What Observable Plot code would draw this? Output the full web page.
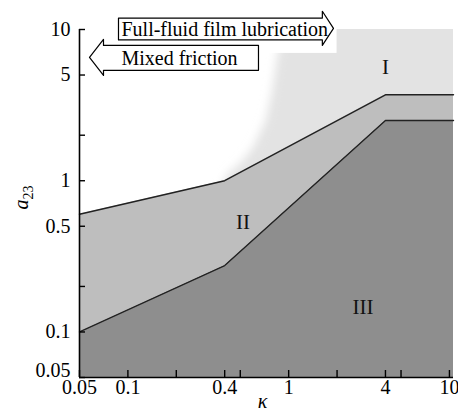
<!DOCTYPE html>
<html><head><meta charset="utf-8">
<script src="https://cdn.jsdelivr.net/npm/d3@7"></script>
<script src="https://cdn.jsdelivr.net/npm/@observablehq/plot@0.6"></script>
<style>body{margin:0;background:#fff}</style>
</head><body><div id="chart"></div>
<script>
// ---- data ----
const kappaCorners = [0.05, 0.4, 4, 10.6];
const upperBoundary = [0.6, 1.0, 3.7, 3.7];     // I / II boundary
const lowerBoundary = [0.1, 0.275, 2.5, 2.5];   // II / III boundary
const a23Min = 0.05;

// region I (full-fluid film) soft left edge, closed polygon
const regionIKappa = [0.38, 0.42, 0.50, 0.60, 0.72, 0.79, 0.85, 0.92, 1.0, 20, 20, 0.38];
const regionIA23   = [0.90, 1.12, 1.30, 1.66, 2.5, 3.96, 6.74, 10, 20, 20, 0.05, 0.05];

// white backing box of the annotation arrows
const boxKappa = [0.05, 2.0];
const boxA23 = [6.95, 10];

const regionLabels = ["I", "II", "III"];
const regionLabelKappa = [4.0, 0.52, 2.9];
const regionLabelA23 = [5.6, 0.53, 0.145];

const arrowTexts = ["Full-fluid film lubrication", "Mixed friction"];
const arrowTextKappa = [0.0912, 0.0912];
const arrowTextA23 = [10.0, 6.44];
const arrowId = [0,0,0,0,0,0,0,0, 1,1,1,1,1,1,1,1];
const arrowKappa = [0.0874, 1.62, 1.62, 1.90, 1.62, 1.62, 0.0874, 0.0874,
                    0.0577, 0.0705, 0.0705, 0.649, 0.649, 0.0705, 0.0705, 0.0577];
const arrowA23 = [11.9, 11.9, 13.2, 10.17, 7.85, 8.53, 8.53, 11.9,
                  6.53, 8.6, 7.85, 7.85, 5.37, 5.37, 4.97, 6.53];

const xTicks = [0.05, 0.1, 0.2, 0.4, 0.5, 1, 2, 4, 5, 10];
const xTickLabels = ["0.05", "0.1", "", "0.4", "", "1", "", "4", "", "10"];
const yTicks = [0.05, 0.1, 0.2, 0.5, 1, 2, 5, 10];
const yTickLabels = ["0.05", "0.1", "", "0.5", "1", "", "5", "10"];

// ---- tables ----
const corners = kappaCorners.map((k, i) => ({k, upper: upperBoundary[i], lower: lowerBoundary[i]}));
const regionI = regionIKappa.map((k, i) => ({k, a: regionIA23[i]}));
const labels = regionLabels.map((t, i) => ({t, k: regionLabelKappa[i], a: regionLabelA23[i]}));
const arrows = arrowId.map((id, i) => ({id, k: arrowKappa[i], a: arrowA23[i]}));
const arrowLabels = arrowTexts.map((t, i) => ({t, k: arrowTextKappa[i], a: arrowTextA23[i]}));
const xLab = xTicks.map((v, i) => ({v, t: xTickLabels[i]}));
const yLab = yTicks.map((v, i) => ({v, t: yTickLabels[i]}));
const yLabMain = yLab.filter(d => d.v !== a23Min);
const yLabCorner = yLab.filter(d => d.v === a23Min);

const plot = Plot.plot({
  width: 458, height: 419,
  marginLeft: 79, marginRight: 5, marginTop: 29, marginBottom: 42,
  x: {type: "log", domain: [0.05, 10.6]},
  y: {type: "log", domain: [0.05, 10]},
  style: {fontFamily: "'Liberation Serif', serif", fontSize: "20px", background: "#fff", color: "#000", overflow: "visible"},
  marks: [
    Plot.line(regionI, {x: "k", y: "a", fill: "#e3e3e3", stroke: "none", clip: true}),
    Plot.rect([0], {x1: () => boxKappa[0], x2: () => boxKappa[1], y1: () => boxA23[0], y2: () => boxA23[1], fill: "#fff"}),
    Plot.area(corners, {x1: "k", y1: () => a23Min, y2: "lower", fill: "#8e8e8e"}),
    Plot.area(corners, {x1: "k", y1: "lower", y2: "upper", fill: "#bebebe"}),
    Plot.line(corners, {x: "k", y: "upper", stroke: "#222", strokeWidth: 1.4}),
    Plot.line(corners, {x: "k", y: "lower", stroke: "#222", strokeWidth: 1.4}),
    Plot.ruleX([0.05], {stroke: "#000", strokeWidth: 1.6}),
    Plot.ruleY([0.05], {stroke: "#000", strokeWidth: 1.6}),
    Plot.axisX({ticks: xTicks, tickFormat: () => "", tickSize: -7, tickPadding: 0, label: null, strokeWidth: 1.4}),
    Plot.axisY({ticks: yTicks, tickFormat: () => "", tickSize: -6, tickPadding: 0, label: null, strokeWidth: 1.4}),
    Plot.text(xLab, {x: "v", text: "t", frameAnchor: "bottom", dy: 16, fontSize: 20}),
    Plot.text(yLabMain, {y: "v", text: "t", frameAnchor: "left", dx: -9, textAnchor: "end", fontSize: 20}),
    Plot.text(yLabCorner, {y: "v", text: "t", frameAnchor: "left", dx: -9, dy: -7, textAnchor: "end", fontSize: 20}),
    Plot.text(labels, {x: "k", y: "a", text: "t", fontSize: 21, fill: "#111"}),
    Plot.line(arrows, {x: "k", y: "a", z: "id", fill: "#fff", stroke: "#000", strokeWidth: 1.2}),
    Plot.text(arrowLabels, {x: "k", y: "a", text: "t", textAnchor: "start", fontSize: 20}),
    Plot.text(["κ"], {frameAnchor: "bottom", dx: -4, dy: 30, fontStyle: "italic", fontSize: 20}),
    Plot.text(["a23"], {frameAnchor: "left", dx: -58, dy: 6, rotate: -90, fontSize: 20})
  ]
});
document.getElementById("chart").appendChild(plot);

const ns = "http://www.w3.org/2000/svg";
const groups = Array.from(plot.children).filter(el => el.tagName.toLowerCase() === "g");

// soft edge of region I
const defs = document.createElementNS(ns, "defs");
const filter = document.createElementNS(ns, "filter");
filter.setAttribute("id", "soft");
filter.setAttribute("filterUnits", "userSpaceOnUse");
filter.setAttribute("x", "-100"); filter.setAttribute("y", "-100");
filter.setAttribute("width", "700"); filter.setAttribute("height", "700");
const blur = document.createElementNS(ns, "feGaussianBlur");
blur.setAttribute("stdDeviation", "5");
filter.appendChild(blur); defs.appendChild(filter);
plot.insertBefore(defs, plot.firstChild);
const gI = groups[0];
if (gI) {
  const path = gI.querySelector("path");
  if (path) path.setAttribute("filter", "url(#soft)");
}

// italic a with subscript 23
const yl = groups[groups.length - 1].querySelector("text");
if (yl) {
  yl.textContent = "";
  const t1 = document.createElementNS(ns, "tspan");
  t1.setAttribute("font-style", "italic"); t1.textContent = "a";
  const t2 = document.createElementNS(ns, "tspan");
  t2.setAttribute("font-size", "14"); t2.setAttribute("dy", "5"); t2.textContent = "23";
  yl.appendChild(t1); yl.appendChild(t2);
}
</script>
</body></html>
